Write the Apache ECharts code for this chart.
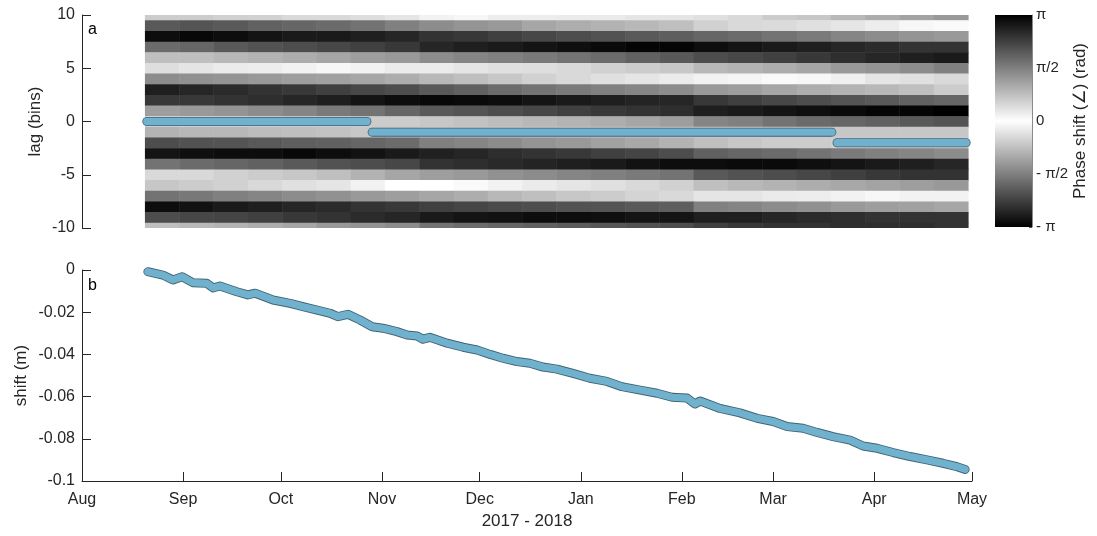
<!DOCTYPE html>
<html><head><meta charset="utf-8">
<script src="https://cdn.jsdelivr.net/npm/echarts@6/dist/echarts.min.js"></script>
<style>html,body{margin:0;padding:0;background:#fff}#c{width:1097px;height:536px}</style>
</head><body><div id="c"></div>
<script>
// ---- data ----
const monthDays = [0, 31, 61, 92, 122, 153, 184, 212, 243, 273]; // days since 2017-08-01
const monthLabels = ['Aug', 'Sep', 'Oct', 'Nov', 'Dec', 'Jan', 'Feb', 'Mar', 'Apr', 'May'];

// time-bin edges of the phase image (days since 2017-08-01)
const binEdges = [19.3, 29.8, 40.3, 50.9, 61.4, 71.9, 82.4, 92.9, 103.5, 114.0, 124.5, 135.0, 145.5,
  156.1, 166.6, 177.1, 187.6, 198.1, 208.7, 219.2, 229.7, 240.2, 250.7, 261.3, 271.8];
const lags = [10, 9, 8, 7, 6, 5, 4, 3, 2, 1, 0, -1, -2, -3, -4, -5, -6, -7, -8, -9, -10];
// |phase| in units of pi, one row per lag, one value per time bin
const phaseOverPi = [
  [0.2,0.2,0.18,0.18,0.15,0.15,0.13,0.1, 0.05,0.03,0.07,0.07,0.08,0.08,0.1,0.1, 0.12,0.15,0.2,0.22,0.28,0.32,0.36,0.4],
  [0.65,0.67,0.65,0.62,0.6,0.58,0.55,0.5, 0.45,0.42,0.4,0.35,0.32,0.3,0.28,0.25, 0.18,0.15,0.14,0.12,0.1,0.07,0.03,0.02],
  [0.95,0.97,0.95,0.92,0.9,0.9,0.88,0.85, 0.8,0.78,0.75,0.72,0.7,0.68,0.65,0.63, 0.6,0.58,0.55,0.52,0.48,0.45,0.42,0.4],
  [0.58,0.6,0.65,0.68,0.7,0.72,0.75,0.78, 0.85,0.88,0.9,0.92,0.94,0.96,0.98,0.98, 0.95,0.92,0.9,0.88,0.85,0.83,0.8,0.8],
  [0.25,0.25,0.28,0.3,0.32,0.35,0.38,0.4, 0.45,0.48,0.5,0.52,0.55,0.58,0.62,0.65, 0.7,0.72,0.75,0.78,0.82,0.85,0.88,0.9],
  [0.13,0.1,0.08,0.07,0.05,0.03,0.05,0.08, 0.08,0.1,0.12,0.13,0.15,0.18,0.2,0.22, 0.28,0.3,0.32,0.35,0.4,0.42,0.45,0.5],
  [0.45,0.43,0.42,0.4,0.38,0.37,0.35,0.32, 0.28,0.25,0.22,0.18,0.15,0.12,0.1,0.08, 0.05,0.04,0.02,0.03,0.06,0.1,0.12,0.15],
  [0.88,0.85,0.83,0.8,0.78,0.75,0.72,0.7, 0.65,0.62,0.58,0.55,0.52,0.5,0.48,0.45, 0.4,0.38,0.35,0.32,0.3,0.28,0.25,0.2],
  [0.78,0.78,0.8,0.82,0.85,0.88,0.92,0.95, 0.97,0.96,0.95,0.92,0.9,0.88,0.86,0.85, 0.78,0.75,0.72,0.7,0.67,0.65,0.62,0.6],
  [0.38,0.4,0.42,0.45,0.48,0.52,0.55,0.6, 0.65,0.67,0.7,0.72,0.75,0.78,0.8,0.82, 0.88,0.9,0.92,0.94,0.96,0.98,0.98,1.0],
  [0.15,0.15,0.16,0.17,0.18,0.18,0.2,0.2, 0.22,0.24,0.26,0.28,0.3,0.32,0.35,0.38, 0.48,0.5,0.55,0.58,0.6,0.62,0.65,0.67],
  [0.3,0.28,0.28,0.26,0.25,0.24,0.22,0.22, 0.2,0.2,0.2,0.2,0.2,0.2,0.2,0.2, 0.2,0.2,0.22,0.22,0.22,0.22,0.22,0.22],
  [0.7,0.68,0.67,0.65,0.63,0.62,0.6,0.58, 0.5,0.48,0.45,0.42,0.4,0.37,0.34,0.3, 0.25,0.22,0.2,0.2,0.18,0.18,0.18,0.18],
  [0.92,0.94,0.95,0.95,0.97,0.95,0.93,0.9, 0.87,0.85,0.82,0.8,0.78,0.75,0.73,0.7, 0.62,0.6,0.58,0.55,0.52,0.5,0.48,0.45],
  [0.55,0.58,0.6,0.62,0.65,0.68,0.7,0.72, 0.8,0.82,0.84,0.86,0.88,0.9,0.93,0.95, 0.95,0.96,0.96,0.94,0.92,0.9,0.88,0.85],
  [0.15,0.15,0.18,0.2,0.22,0.25,0.3,0.35, 0.38,0.4,0.43,0.45,0.48,0.5,0.52,0.55, 0.65,0.68,0.7,0.72,0.75,0.78,0.8,0.8],
  [0.22,0.2,0.18,0.15,0.12,0.1,0.05,0.0, 0.0,0.02,0.05,0.08,0.1,0.12,0.15,0.18, 0.25,0.28,0.3,0.32,0.34,0.36,0.38,0.4],
  [0.55,0.53,0.5,0.48,0.45,0.43,0.4,0.38, 0.35,0.32,0.28,0.25,0.22,0.2,0.17,0.15, 0.1,0.1,0.08,0.07,0.05,0.03,0.05,0.05],
  [0.95,0.93,0.9,0.88,0.85,0.83,0.8,0.78, 0.75,0.73,0.71,0.7,0.68,0.67,0.65,0.63, 0.5,0.48,0.45,0.43,0.4,0.38,0.37,0.35],
  [0.7,0.72,0.73,0.75,0.78,0.8,0.83,0.85, 0.9,0.92,0.93,0.95,0.95,0.94,0.92,0.92, 0.88,0.88,0.85,0.83,0.82,0.8,0.8,0.8],
  [0.25,0.28,0.3,0.32,0.35,0.4,0.42,0.45, 0.55,0.58,0.6,0.62,0.64,0.66,0.68,0.7, 0.75,0.78,0.8,0.8,0.82,0.82,0.82,0.8]
];

// best-lag segments (panel a)
const segStart = [19.9, 89.0, 231.6];
const segEnd = [87.4, 230.0, 271.2];
const segLag = [0, -1, -2];

// cumulative shift (panel b)
const shiftDays = [20.2, 24.8, 27.9, 30.7, 34.0, 38.3, 40.2, 42.3, 47.5, 50.9, 53.1, 58.6, 63.8, 67.8, 72.1,
  76.1, 78.5, 81.6, 85.3, 89.0, 92.3, 96.6, 99.7, 102.8, 104.6, 106.7, 112.0, 116.9, 121.2, 125.2, 129.1,
  133.4, 137.4, 141.4, 145.7, 150.6, 155.8, 161.0, 165.6, 171.2, 176.4, 181.0, 185.6, 188.0, 189.6, 195.7,
  201.8, 207.1, 212.0, 216.3, 221.2, 225.5, 230.4, 235.6, 239.6, 243.9, 248.8, 254.0, 259.2, 264.1, 268.4, 270.9];
const shiftValues = [-0.0008, -0.0024, -0.0047, -0.0032, -0.006, -0.0063, -0.0085, -0.0076, -0.0103, -0.0118,
  -0.011, -0.0142, -0.0158, -0.0174, -0.019, -0.0205, -0.0221, -0.021, -0.0237, -0.0269, -0.0276, -0.0292,
  -0.0308, -0.0313, -0.0328, -0.0319, -0.0347, -0.0366, -0.0379, -0.04, -0.0418, -0.0434, -0.0442, -0.046,
  -0.047, -0.049, -0.0513, -0.0528, -0.0553, -0.0569, -0.0584, -0.0603, -0.0607, -0.0635, -0.0621, -0.0656,
  -0.0677, -0.0703, -0.0718, -0.0742, -0.075, -0.077, -0.079, -0.0806, -0.0834, -0.0845, -0.0865, -0.0884,
  -0.09, -0.0916, -0.0932, -0.0945];

// colorbar ticks
const cbTicks = [-Math.PI, -Math.PI / 2, 0, Math.PI / 2, Math.PI];
const cbLabels = ['- π', '- π/2', '0', 'π/2', 'π'];

// ---- chart ----
const FONT = "'Liberation Sans', Arial, 'DejaVu Sans', sans-serif";
const INK = '#262626';
const BLUE = '#70b2cd';
const EDGE = '#3f6373';

const heatData = [];
lags.forEach((lag, r) => {
  phaseOverPi[r].forEach((v, c) => {
    heatData.push([binEdges[c], binEdges[c + 1], lag, v * Math.PI]);
  });
});

function renderHeat(params, api) {
  const p0 = api.coord([api.value(0), api.value(2) + 0.5]);
  const p1 = api.coord([api.value(1), api.value(2) - 0.5]);
  const cs = params.coordSys;
  const shape = echarts.graphic.clipRectByRect(
    { x: p0[0], y: p0[1], width: p1[0] - p0[0] + 0.5, height: p1[1] - p0[1] + 0.5 },
    { x: cs.x, y: cs.y, width: cs.width, height: cs.height });
  if (!shape) return null;
  return { type: 'rect', shape: shape, style: { fill: api.visual('color') } };
}

function renderColorbar(params, api) {
  const top = api.coord([0, api.value(1)]);
  const bot = api.coord([0, api.value(0)]);
  const cs = params.coordSys;
  return {
    type: 'rect',
    shape: { x: cs.x, y: top[1], width: cs.width, height: bot[1] - top[1] },
    style: {
      fill: new echarts.graphic.LinearGradient(0, 0, 0, 1, [
        { offset: 0, color: '#000' }, { offset: 0.5, color: '#fff' }, { offset: 1, color: '#000' }
      ])
    }
  };
}

const segSeries = [];
segStart.forEach((s, i) => {
  const d = [[s, segLag[i]], [segEnd[i], segLag[i]]];
  segSeries.push({ type: 'line', xAxisIndex: 0, yAxisIndex: 0, data: d, symbol: 'none', silent: true,
    lineStyle: { color: EDGE, width: 9, cap: 'round' }, z: 3 });
  segSeries.push({ type: 'line', xAxisIndex: 0, yAxisIndex: 0, data: d, symbol: 'none', silent: true,
    lineStyle: { color: BLUE, width: 7.4, cap: 'round' }, z: 4 });
});

const shiftData = shiftDays.map((d, i) => [d, shiftValues[i]]);

const axisCommon = {
  axisLine: { show: true, onZero: false, lineStyle: { color: INK, width: 1 } },
  axisTick: { show: true, inside: true, length: 9, lineStyle: { color: INK, width: 1 } },
  axisLabel: { color: INK, fontFamily: FONT, fontSize: 16, margin: 7 },
  splitLine: { show: false },
  nameMoveOverlap: false,
  nameTextStyle: { color: INK, fontFamily: FONT, fontSize: 17 }
};

const option = {
  backgroundColor: '#fff',
  animation: false,
  title: [
    { text: 'a', left: 88, top: 22, textStyle: { fontFamily: FONT, fontSize: 16, fontWeight: 'normal', color: '#000' }, padding: 0 },
    { text: 'b', left: 88, top: 278, textStyle: { fontFamily: FONT, fontSize: 16, fontWeight: 'normal', color: '#000' }, padding: 0 }
  ],
  grid: [
    { left: 82, top: 15, width: 890, height: 213 },
    { left: 82, top: 270, width: 890, height: 211 },
    { left: 995, top: 15, width: 37, height: 212 }
  ],
  visualMap: [{
    type: 'continuous', show: false, seriesIndex: 0, dimension: 3,
    min: -Math.PI, max: Math.PI, inRange: { color: ['#000000', '#ffffff', '#000000'] }
  }],
  xAxis: [
    { gridIndex: 0, type: 'value', min: 0, max: 273, show: false },
    Object.assign({}, axisCommon, {
      gridIndex: 1, type: 'value', min: 0, max: 273,
      name: '2017 - 2018', nameLocation: 'middle', nameGap: 32,
      axisTick: Object.assign({}, axisCommon.axisTick, { customValues: monthDays }),
      axisLabel: Object.assign({}, axisCommon.axisLabel, {
        customValues: monthDays, margin: 11,
        formatter: (v) => monthLabels[monthDays.indexOf(Math.round(v))]
      })
    }),
    { gridIndex: 2, type: 'value', min: 0, max: 1, show: false }
  ],
  yAxis: [
    Object.assign({}, axisCommon, {
      gridIndex: 0, type: 'value', min: -10, max: 10, interval: 5,
      name: 'lag (bins)', nameLocation: 'middle', nameGap: 47, nameTextStyle: { color: INK, fontFamily: FONT, fontSize: 17, verticalAlign: 'middle' }
    }),
    Object.assign({}, axisCommon, {
      gridIndex: 1, type: 'value', min: -0.1, max: 0, interval: 0.02,
      name: 'shift (m)', nameLocation: 'middle', nameGap: 61, nameTextStyle: { color: INK, fontFamily: FONT, fontSize: 17, verticalAlign: 'middle' }
    }),
    {
      gridIndex: 2, type: 'value', min: -Math.PI, max: Math.PI, position: 'right',
      splitLine: { show: false },
      nameMoveOverlap: false,
      axisLine: { show: true, onZero: false, lineStyle: { color: '#8a8a8a', width: 1 } },
      axisTick: { show: true, inside: true, length: 3, customValues: cbTicks, lineStyle: { color: '#555' } },
      axisLabel: {
        color: INK, fontFamily: FONT, fontSize: 15, margin: 4, customValues: cbTicks,
        formatter: (v) => {
          let best = 0;
          cbTicks.forEach((t, i) => { if (Math.abs(t - v) < Math.abs(cbTicks[best] - v)) best = i; });
          return cbLabels[best];
        }
      },
      name: 'Phase shift (∠) (rad)', nameLocation: 'middle', nameGap: 40, nameRotate: 90,
      nameTextStyle: { color: INK, fontFamily: FONT, fontSize: 17 }
    }
  ],
  series: [
    { type: 'custom', xAxisIndex: 0, yAxisIndex: 0, renderItem: renderHeat, data: heatData,
      encode: { x: [0, 1], y: 2 }, clip: true, silent: true, z: 1 },
    ...segSeries,
    { type: 'line', xAxisIndex: 1, yAxisIndex: 1, data: shiftData, symbol: 'none', silent: true,
      lineStyle: { color: EDGE, width: 9, cap: 'round', join: 'round' }, z: 3 },
    { type: 'line', xAxisIndex: 1, yAxisIndex: 1, data: shiftData, symbol: 'none', silent: true,
      lineStyle: { color: BLUE, width: 7.2, cap: 'round', join: 'round' }, z: 4 },
    { type: 'custom', xAxisIndex: 2, yAxisIndex: 2, renderItem: renderColorbar,
      data: [[cbTicks[0], cbTicks[cbTicks.length - 1]]], encode: { y: [0, 1] }, silent: true, z: 1 }
  ]
};

const chart = echarts.init(document.getElementById('c'), null, { renderer: 'canvas' });
chart.setOption(option);
</script>
</body></html>
